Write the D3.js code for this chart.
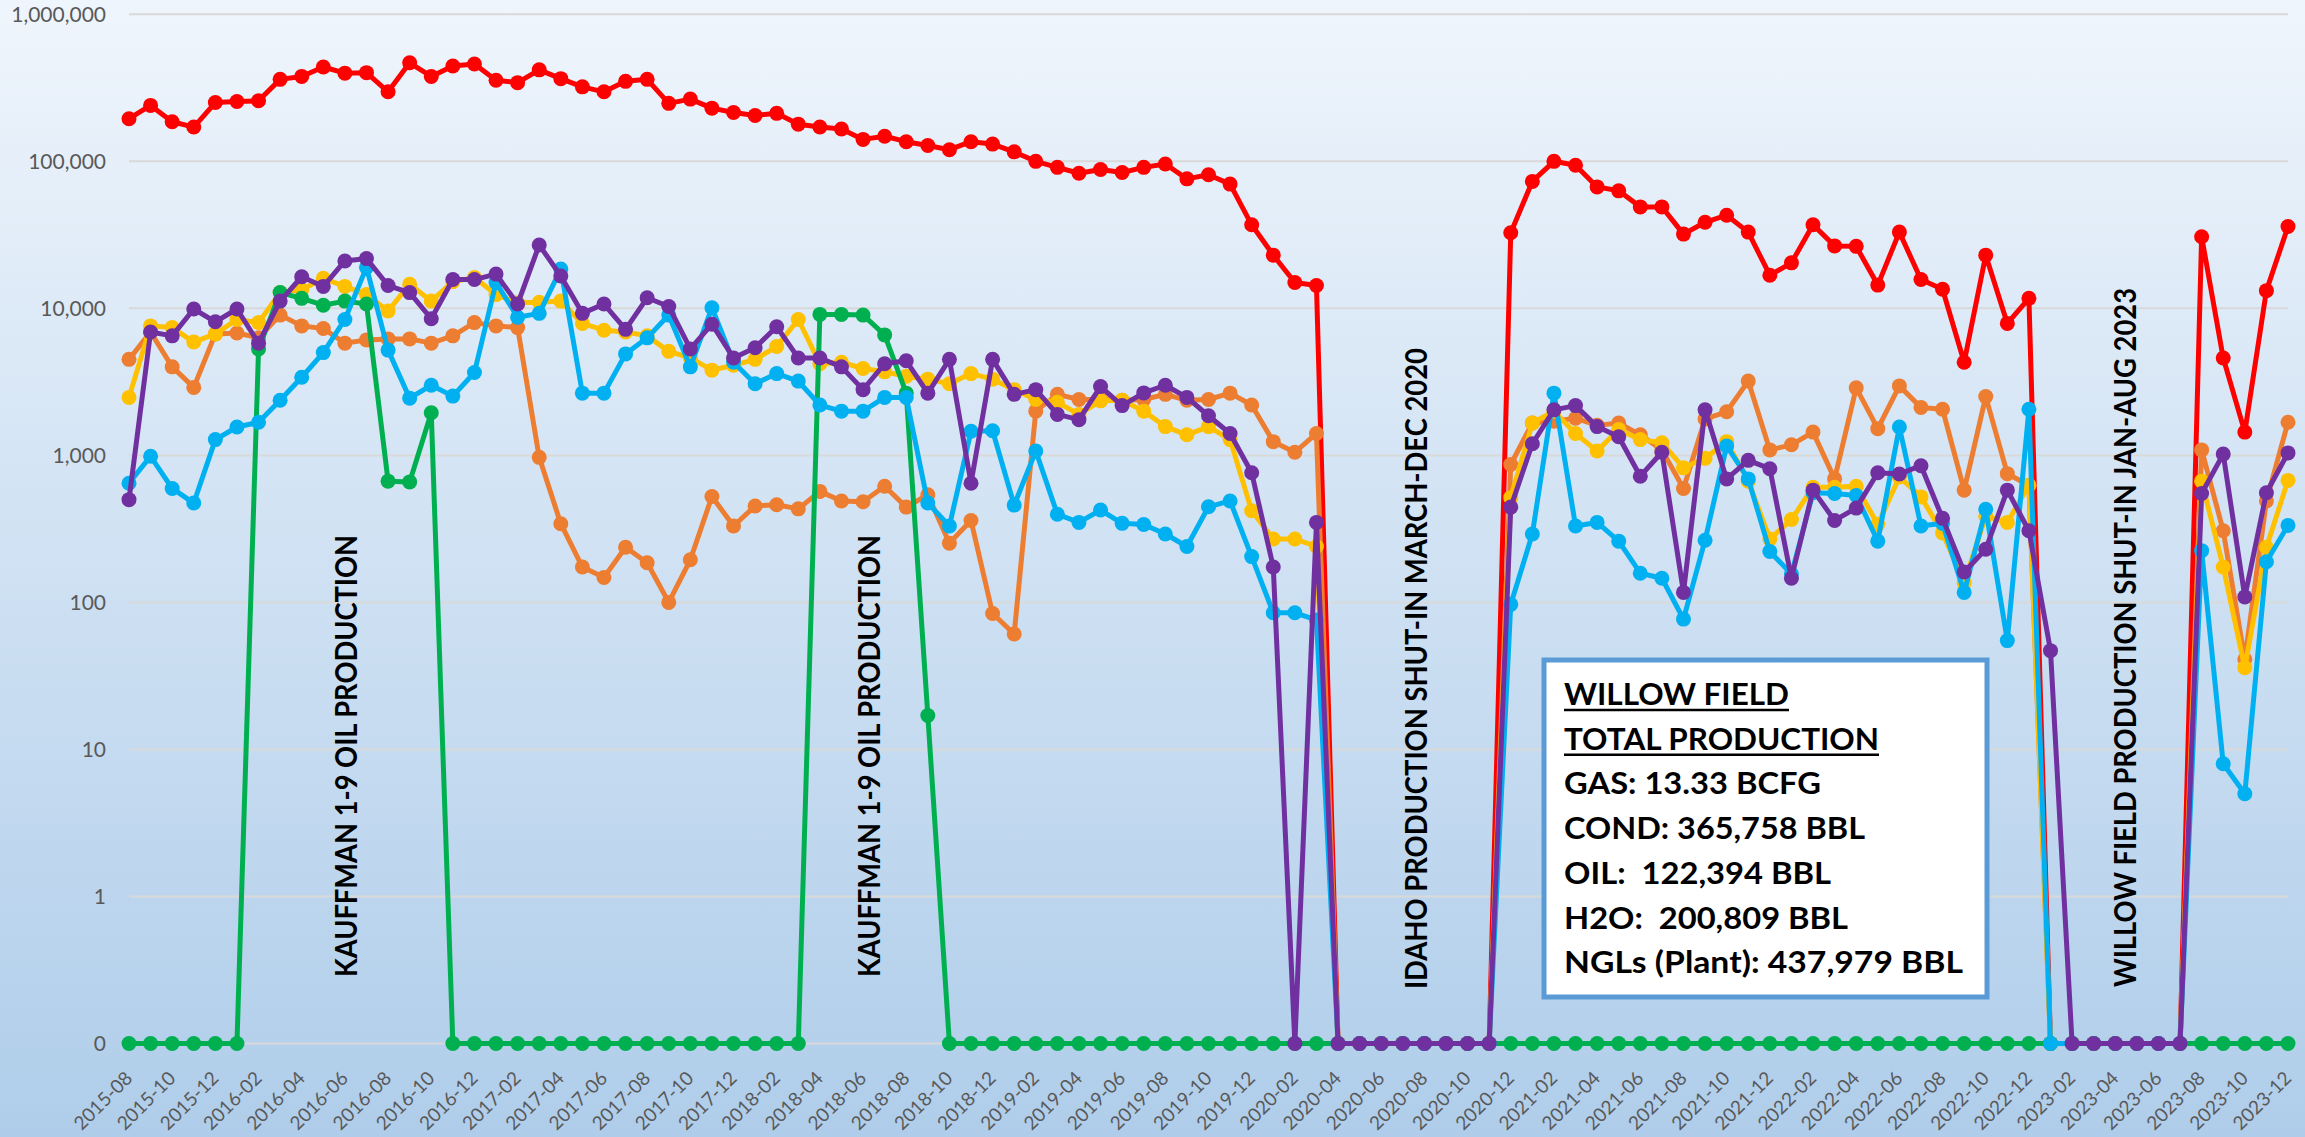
<!DOCTYPE html>
<html>
<head>
<meta charset="utf-8">
<script src="https://cdn.jsdelivr.net/npm/d3@7"></script>
<style>
    html, body { margin: 0; padding: 0; overflow: hidden; }
    svg { display: block; font-family: Lato, "Open Sans", sans-serif; }
</style>
</head>
<body>
<svg id="chart"></svg>
<script>

/*Categories: one per month, 2015-08 .. 2023-12*/
var months = d3.timeMonths(new Date(2015, 7, 1), new Date(2024, 0, 1)).map(d3.timeFormat("%Y-%m"));

/*Y axis ticks (log scale, the "0" row sits one decade under 1)*/
var yTicks = [0.1, 1, 10, 100, 1000, 10000, 100000, 1000000];
var yTickLabels = ["0", "1", "10", "100", "1,000", "10,000", "100,000", "1,000,000"];

/*Monthly values*/
var gas = [195000, 240000, 186000, 171000, 251000, 255000, 258000, 361000, 378000, 438000,
    398000, 401000, 297000, 468000, 378000, 445000, 459000, 356000, 343000, 419000,
    365000, 321000, 297000, 350000, 361000, 248000, 265000, 230000, 215000, 205000,
    212000, 179000, 171000, 166000, 141000, 148000, 136000, 128000, 120000, 136000,
    131000, 116000, 100000, 91000, 83000, 88000, 84000, 91000, 96000, 76000,
    81000, 70000, 37000, 23000, 15000, 14300, 0, 0, 0, 0,
    0, 0, 0, 0, 32700, 73000, 100000, 94000, 67000, 63000,
    49000, 49000, 32000, 38500, 43000, 33000, 16800, 20400, 37000, 26600,
    26400, 14400, 33000, 15700, 13500, 4300, 23000, 7900, 11700, 0,
    0, 0, 0, 0, 0, 0, 30700, 4600, 1440, 13200,
    36000];

var condensate = [4500, 6900, 4000, 2900, 6700, 6800, 6300, 9000, 7600, 7300,
    5800, 6100, 6200, 6200, 5800, 6500, 8000, 7600, 7400, 970,
    343, 174, 148, 237, 186, 100, 195, 525, 331, 453,
    462, 433, 569, 490, 484, 617, 445, 540, 253, 361,
    84, 61, 2000, 2600, 2400, 2400, 2370, 2400, 2600, 2370,
    2400, 2650, 2200, 1240, 1050, 1410, 0, 0, 0, 0,
    0, 0, 0, 0, 867, 1660, 1710, 1790, 1600, 1660,
    1380, 1090, 596, 1770, 1980, 3200, 1090, 1180, 1440, 692,
    2880, 1520, 2970, 2120, 2060, 580, 2510, 751, 627, 0,
    0, 0, 0, 0, 0, 0, 1090, 307, 41, 490,
    1680];

var ngl = [2480, 7600, 7400, 5900, 6700, 8400, 8000, 12800, 13400, 16000,
    14100, 12400, 9600, 14600, 11200, 15200, 16200, 12400, 10900, 11000,
    11200, 7900, 7100, 6900, 6500, 5100, 4600, 3800, 4100, 4500,
    5500, 8400, 4200, 4300, 3900, 3700, 3450, 3300, 3070, 3600,
    3300, 2800, 2400, 2300, 1900, 2350, 2370, 2000, 1570, 1380,
    1570, 1280, 420, 270, 270, 240, 0, 0, 0, 0,
    0, 0, 0, 0, 516, 1660, 2000, 1410, 1070, 1500,
    1280, 1220, 823, 955, 1240, 668, 270, 366, 607, 607,
    617, 339, 713, 522, 297, 136, 386, 350, 627, 0,
    0, 0, 0, 0, 0, 0, 668, 174, 36, 237,
    676];

var oil = [0, 0, 0, 0, 0, 0, 5300, 12800, 11700, 10500,
    11200, 10700, 668, 660, 1950, 0, 0, 0, 0, 0,
    0, 0, 0, 0, 0, 0, 0, 0, 0, 0,
    0, 0, 9100, 9100, 9000, 6600, 2650, 17, 0, 0,
    0, 0, 0, 0, 0, 0, 0, 0, 0, 0,
    0, 0, 0, 0, 0, 0, 0, 0, 0, 0,
    0, 0, 0, 0, 0, 0, 0, 0, 0, 0,
    0, 0, 0, 0, 0, 0, 0, 0, 0, 0,
    0, 0, 0, 0, 0, 0, 0, 0, 0, 0,
    0, 0, 0, 0, 0, 0, 0, 0, 0, 0,
    0];

var water = [647, 986, 596, 474, 1280, 1560, 1680, 2370, 3400, 5000,
    8400, 19000, 5200, 2450, 3000, 2530, 3660, 15000, 8700, 9250,
    18500, 2650, 2650, 4900, 6300, 9000, 4000, 10100, 4300, 3070,
    3600, 3200, 2200, 2000, 2000, 2480, 2480, 474, 331, 1460,
    1470, 459, 1070, 398, 350, 425, 345, 339, 292, 240,
    447, 490, 205, 85, 85, 76, 0, 0, 0, 0,
    0, 0, 0, 0, 97, 292, 2650, 331, 350, 261,
    158, 146, 77, 265, 1160, 692, 222, 156, 557, 551,
    533, 261, 1560, 331, 345, 117, 430, 55, 2060, 0,
    0, 0, 0, 0, 0, 0, 225, 8, 5, 189,
    334];

var plantNgl = [500, 6900, 6500, 9900, 8100, 9900, 5800, 11200, 16400, 14100,
    21000, 21800, 14300, 12800, 8500, 15700, 15700, 17100, 10700, 27000,
    16600, 9250, 10700, 7200, 11800, 10300, 5300, 7800, 4600, 5400,
    7500, 4600, 4600, 4000, 2800, 4200, 4400, 2650, 4500, 647,
    4500, 2600, 2800, 1900, 1750, 2940, 2180, 2660, 3000, 2480,
    1860, 1410, 762, 174, 0, 350, 0, 0, 0, 0,
    0, 0, 0, 0, 445, 1200, 2040, 2180, 1570, 1340,
    722, 1050, 117, 2040, 692, 925, 812, 146, 580, 361,
    438, 762, 747, 851, 373, 161, 230, 580, 307, 47,
    0, 0, 0, 0, 0, 0, 551, 1020, 109, 557,
    1040];

/*Draw order and colours*/
var seriesNames = ["gas", "condensate", "ngl", "oil", "water", "plantNgl"];
var seriesValues = [gas, condensate, ngl, oil, water, plantNgl];
var seriesColours = ["#ff0000", "#ed7d31", "#ffc000", "#00b050", "#00b0f0", "#7030a0"];

/*Summary box lines*/
var boxLines = ["WILLOW FIELD", "TOTAL PRODUCTION", "GAS: 13.33 BCFG", "COND: 365,758 BBL",
    "OIL:  122,394 BBL", "H2O:  200,809 BBL", "NGLs (Plant): 437,979 BBL"];

/*Vertical notes*/
var notes = ["KAUFFMAN 1-9 OIL PRODUCTION", "KAUFFMAN 1-9 OIL PRODUCTION",
    "IDAHO PRODUCTION SHUT-IN MARCH-DEC 2020", "WILLOW FIELD PRODUCTION SHUT-IN JAN-AUG 2023"];


var local = {
    "svgwidth": 2305,
    "svgheight": 1137,
    "plotleft": 129,
    "plotright": 2288,
    "plottop": 14.3,
    "plotbottom": 1043.5,
    "linewidth": 5,
    "markerradius": 7.5,
    "gridcolour": "#d9d9d9",
    "labelcolour": "#595959",
    // x of baseline, y where text starts, length of text
    "notelayout": [[357, 977, 442], [880, 977, 442], [1427, 989, 641], [2136, 987, 699]],
    "box": {"x": 1544, "y": 660, "w": 443, "h": 337, "textx": 1564, "firstbase": 705, "step": 44.7,
            "widths": [225, 315, 257, 301, 267, 284, 399]}
};

var svg = d3.select("#chart")
    .attr("width", local.svgwidth)
    .attr("height", local.svgheight);

//Background gradient
var grad = svg.append("defs").append("linearGradient")
    .attr("id", "bg")
    .attr("x1", 0).attr("y1", 0).attr("x2", 0).attr("y2", 1);
grad.append("stop").attr("offset", "0%").attr("stop-color", "#eff5fc");
grad.append("stop").attr("offset", "100%").attr("stop-color", "#afcdea");

svg.append("rect")
    .attr("width", local.svgwidth)
    .attr("height", local.svgheight)
    .attr("fill", "url(#bg)");

//Scales
var xScale = d3.scalePoint()
    .domain(months)
    .range([local.plotleft, local.plotright]);

var yScale = d3.scaleLog()
    .domain([0.1, 1000000])
    .range([local.plotbottom, local.plottop]);

//zero has no place on a log axis, it goes to the bottom row
function yVal(v) {
    return yScale(v > 0 ? v : 0.1);
}

//Gridlines
svg.append("g")
    .selectAll("line")
    .data(yTicks)
    .enter()
    .append("line")
    .attr("x1", local.plotleft)
    .attr("x2", local.plotright)
    .attr("y1", function (d) { return yScale(d); })
    .attr("y2", function (d) { return yScale(d); })
    .attr("stroke", local.gridcolour)
    .attr("stroke-width", 2);

//Y axis
var yAxis = d3.axisLeft(yScale)
    .tickValues(yTicks)
    .tickFormat(function (d, i) { return yTickLabels[i]; })
    .tickSize(0)
    .tickPadding(23);

var yg = svg.append("g")
    .attr("transform", "translate(" + local.plotleft + ",0)")
    .call(yAxis);
yg.select(".domain").remove();
yg.selectAll("text")
    .attr("fill", local.labelcolour)
    .style("font-size", "21px")
    .style("font-family", "Lato, sans-serif");

//X axis, every second month
var xAxis = d3.axisBottom(xScale)
    .tickValues(months.filter(function (d, i) { return i % 2 === 0; }))
    .tickSize(0);

var xg = svg.append("g")
    .attr("transform", "translate(0," + local.plotbottom + ")")
    .call(xAxis);
xg.select(".domain").remove();
xg.selectAll("text")
    .attr("x", 0)
    .attr("y", 0)
    .attr("dy", 0)
    .attr("transform", "translate(4,36) rotate(-45)")
    .style("text-anchor", "end")
    .attr("fill", local.labelcolour)
    .style("font-size", "19px")
    .style("font-family", "Lato, sans-serif");

//Series
var line = d3.line()
    .x(function (d, i) { return xScale(months[i]); })
    .y(function (d) { return yVal(d); });

for (var s = 0; s < seriesValues.length; s++) {
    var g = svg.append("g").attr("class", "series " + seriesNames[s]);

    g.append("path")
        .datum(seriesValues[s])
        .attr("d", line)
        .attr("fill", "none")
        .attr("stroke", seriesColours[s])
        .attr("stroke-width", local.linewidth)
        .attr("stroke-linejoin", "round");

    g.selectAll("circle")
        .data(seriesValues[s])
        .enter()
        .append("circle")
        .attr("cx", function (d, i) { return xScale(months[i]); })
        .attr("cy", function (d) { return yVal(d); })
        .attr("r", local.markerradius)
        .attr("fill", seriesColours[s]);
}

//Vertical notes
svg.append("g")
    .selectAll("text")
    .data(notes)
    .enter()
    .append("text")
    .attr("transform", function (d, i) {
        return "translate(" + local.notelayout[i][0] + "," + local.notelayout[i][1] + ") rotate(-90)";
    })
    .attr("textLength", function (d, i) { return local.notelayout[i][2]; })
    .attr("lengthAdjust", "spacingAndGlyphs")
    .style("font-size", "30px")
    .style("font-weight", "bold")
    .attr("fill", "#000")
    .text(function (d) { return d; });

//Summary box
var box = local.box;
svg.append("rect")
    .attr("x", box.x)
    .attr("y", box.y)
    .attr("width", box.w)
    .attr("height", box.h)
    .attr("fill", "#fff")
    .attr("stroke", "#5b9bd5")
    .attr("stroke-width", 5);

svg.append("g")
    .selectAll("text")
    .data(boxLines)
    .enter()
    .append("text")
    .attr("x", box.textx)
    .attr("y", function (d, i) { return box.firstbase + i * box.step; })
    .attr("textLength", function (d, i) { return box.widths[i]; })
    .attr("lengthAdjust", "spacingAndGlyphs")
    .style("white-space", "pre")
    .style("font-size", "30px")
    .style("font-weight", "bold")
    .attr("fill", "#000")
    .text(function (d) { return d; });

//Underline the two title lines
svg.append("g")
    .selectAll("line")
    .data([0, 1])
    .enter()
    .append("line")
    .attr("x1", box.textx)
    .attr("x2", function (d) { return box.textx + box.widths[d]; })
    .attr("y1", function (d) { return box.firstbase + d * box.step + 5; })
    .attr("y2", function (d) { return box.firstbase + d * box.step + 5; })
    .attr("stroke", "#000")
    .attr("stroke-width", 2.5);

</script>
</body>
</html>
